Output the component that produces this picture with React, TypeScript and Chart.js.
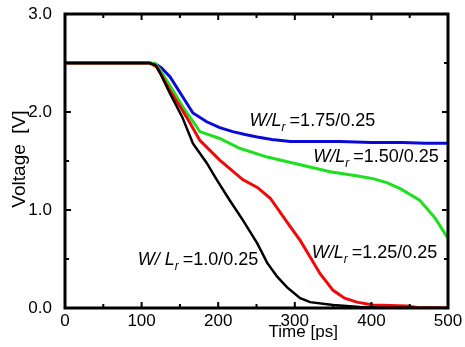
import React, { useEffect, useRef } from "react";
import { Chart, registerables } from "chart.js";
Chart.register(...registerables);

// ---- data ----
const xTickValues = [0, 100, 200, 300, 400, 500];
const yTickValues = [0, 1, 2, 3];

const tBlue = [0, 110, 118, 126, 137, 154, 167, 185, 202, 219, 235, 251, 270, 294, 330, 359, 400, 441, 470, 500];
const vBlue = [2.5, 2.5, 2.49, 2.45, 2.36, 2.15, 1.99, 1.9, 1.84, 1.8, 1.77, 1.745, 1.72, 1.7, 1.7, 1.7, 1.69, 1.69, 1.68, 1.68];

const tGreen = [0, 110, 118, 124, 141, 154, 170, 176, 202, 228, 264, 303, 346, 380, 402, 420, 437, 463, 483, 500];
const vGreen = [2.5, 2.5, 2.49, 2.43, 2.22, 2.05, 1.87, 1.8, 1.73, 1.63, 1.54, 1.47, 1.39, 1.35, 1.32, 1.28, 1.22, 1.1, 0.92, 0.71];

const tRed = [0, 110, 120, 137, 153, 163, 176, 202, 232, 251, 268, 294, 307, 320, 333, 350, 365, 381, 402, 446, 460, 500];
const vRed = [2.5, 2.5, 2.46, 2.22, 2.02, 1.89, 1.71, 1.51, 1.31, 1.23, 1.12, 0.83, 0.69, 0.52, 0.35, 0.18, 0.1, 0.06, 0.03, 0.02, 0.005, 0.0];

const tBlack = [0, 110, 118, 124, 137, 153, 167, 185, 198, 215, 232, 251, 264, 277, 290, 307, 320, 350, 385, 420, 500];
const vBlack = [2.5, 2.5, 2.48, 2.4, 2.19, 1.95, 1.68, 1.48, 1.31, 1.1, 0.9, 0.66, 0.46, 0.32, 0.21, 0.1, 0.06, 0.03, 0.01, 0.0, 0.0];

const seriesNames = ["1.75/0.25", "1.50/0.25", "1.25/0.25", "1.0/0.25"];
const seriesColors = ["#0a0ad8", "#1ee01e", "#ee0a0a", "#000000"];

// label anchors (data coordinates: left edge / baseline)
const labelTimes = [241, 324, 322, 95];
const labelVolts = [1.86, 1.49, 0.51, 0.44];
const labelPrefixes = ["W/L", "W/L", "W/L", "W/ L"];

const FONT = "'Liberation Sans', Arial, sans-serif";

function toPoints(t: number[], v: number[]) {
  return t.map((x, i) => ({ x, y: v[i] }));
}

function zeroPad(s: any) {
  s.paddingTop = 0;
  s.paddingBottom = 0;
  s.paddingLeft = 0;
  s.paddingRight = 0;
}

const framePlugin = {
  id: "framePlugin",
  afterDraw(chart: any) {
    const { ctx, chartArea } = chart;
    const xs = chart.scales.x;
    const ys = chart.scales.y;
    const { left, right, top, bottom } = chartArea;
    ctx.save();
    ctx.strokeStyle = "#000";
    ctx.lineWidth = 3;
    ctx.strokeRect(left, top, right - left, bottom - top);
    ctx.lineWidth = 2;
    ctx.beginPath();
    for (let t = 50; t < 500; t += 50) {
      const px = xs.getPixelForValue(t);
      const len = t % 100 === 0 ? 6 : 4;
      ctx.moveTo(px, bottom);
      ctx.lineTo(px, bottom - len);
      ctx.moveTo(px, top);
      ctx.lineTo(px, top + len);
    }
    for (let v = 0.5; v < 3; v += 0.5) {
      const py = ys.getPixelForValue(v);
      const len = Math.abs(v % 1) < 1e-6 ? 6 : 4;
      ctx.moveTo(left, py);
      ctx.lineTo(left + len, py);
      ctx.moveTo(right, py);
      ctx.lineTo(right - len, py);
    }
    ctx.stroke();

    // axis titles
    ctx.fillStyle = "#000";
    ctx.font = `17px ${FONT}`;
    ctx.textAlign = "center";
    ctx.textBaseline = "alphabetic";
    ctx.fillText("Time [ps]", xs.getPixelForValue(311), bottom + 29);
    ctx.save();
    ctx.translate(25, ys.getPixelForValue(1.52));
    ctx.rotate(-Math.PI / 2);
    ctx.font = `19px ${FONT}`;
    ctx.fillText("Voltage  [V]", 0, 0);
    ctx.restore();

    // curve labels
    ctx.textAlign = "left";
    for (let i = 0; i < seriesNames.length; i++) {
      let x = xs.getPixelForValue(labelTimes[i]);
      const y = ys.getPixelForValue(labelVolts[i]);
      ctx.font = `italic 18px ${FONT}`;
      ctx.fillText(labelPrefixes[i], x, y);
      x += ctx.measureText(labelPrefixes[i]).width;
      ctx.font = `italic 12px ${FONT}`;
      ctx.fillText("r", x, y + 5);
      x += ctx.measureText("r").width + 4;
      ctx.font = `18px ${FONT}`;
      ctx.fillText("=" + seriesNames[i], x, y);
    }
    ctx.restore();
  },
};

export default function App() {
  const ref = useRef<HTMLCanvasElement | null>(null);
  useEffect(() => {
    document.body.style.margin = "0";
    const canvas = ref.current!;
    const chart = new Chart(canvas, {
      type: "line",
      data: {
        datasets: [
          { data: toPoints(tBlue, vBlue), borderColor: seriesColors[0], borderWidth: 3 },
          { data: toPoints(tGreen, vGreen), borderColor: seriesColors[1], borderWidth: 3 },
          { data: toPoints(tRed, vRed), borderColor: seriesColors[2], borderWidth: 3 },
          { data: toPoints(tBlack, vBlack), borderColor: seriesColors[3], borderWidth: 2.5 },
        ].map((d) => ({ ...d, pointRadius: 0, tension: 0, fill: false })).reverse(),
      },
      options: {
        responsive: false,
        animation: false,
        layout: { padding: { left: 0, top: 14, right: 17, bottom: 0 } },
        plugins: { legend: { display: false }, tooltip: { enabled: false } },
        scales: {
          x: {
            type: "linear",
            min: 0,
            max: 500,
            afterFit: (s: any) => { s.height = 39; zeroPad(s); },
            afterBuildTicks: (s: any) => { s.ticks = xTickValues.map((value) => ({ value })); },
            grid: { display: false, drawTicks: false },
            border: { display: false },
            ticks: { color: "#000", padding: 3, maxRotation: 0, font: { size: 17, family: FONT }, callback: (v: any) => String(v) },
          },
          y: {
            type: "linear",
            min: 0,
            max: 3,
            afterFit: (s: any) => { s.width = 65; zeroPad(s); },
            afterBuildTicks: (s: any) => { s.ticks = yTickValues.map((value) => ({ value })); },
            grid: { display: false, drawTicks: false },
            border: { display: false },
            ticks: { color: "#000", padding: 13, font: { size: 17, family: FONT }, callback: (v: any) => Number(v).toFixed(1) },
          },
        },
      },
      plugins: [framePlugin],
    } as any);
    return () => chart.destroy();
  }, []);
  return <canvas ref={ref} width={465} height={347} style={{ display: "block" }} />;
}
